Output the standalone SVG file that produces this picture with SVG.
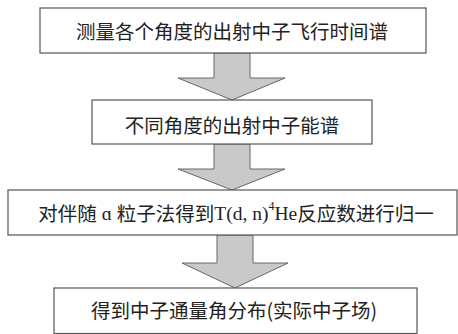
<svg xmlns="http://www.w3.org/2000/svg" width="458" height="334" viewBox="0 0 458 334">
<style>
.box{fill:#ffffff;stroke:#555555;stroke-width:1.2}
.arrow{fill:#c9c9c9;stroke:#666666;stroke-width:1}
.t{font-family:"Noto Sans CJK SC","Noto Sans CJK JP",sans-serif;font-size:19.5px;fill:#222222;text-anchor:middle;dominant-baseline:central}
.lat{font-family:"Liberation Serif",serif}
</style>
<rect width="458" height="334" fill="#ffffff"/>
<g id="connectors">
<path class="arrow" d="M214,53 L250,53 L250,78 L285,78 L232,100 L178,78 L214,78 Z"/>
<path class="arrow" d="M214,144 L250,144 L250,169 L285,169 L232,190 L178,169 L214,169 Z"/>
<path class="arrow" d="M217,235 L253,235 L253,263 L288,263 L235,288 L182,263 L217,263 Z"/>
</g>
<g id="node1">
<rect class="box" x="40" y="8" width="386" height="45"/>
<text class="t" x="232" y="30.5">测量各个角度的出射中子飞行时间谱</text>
</g>
<g id="node2">
<rect class="box" x="92" y="100" width="280" height="44"/>
<text class="t" x="232" y="124.5">不同角度的出射中子能谱</text>
</g>
<g id="node3">
<rect class="box" x="8" y="190" width="449" height="45"/>
<text class="t" x="236" y="212.5" font-size="20">对伴随<tspan class="lat"> ɑ </tspan>粒子法得到<tspan class="lat">T(d, n)</tspan><tspan class="lat" font-size="12" dy="-7">4</tspan><tspan class="lat" dy="7">He</tspan>反应数进行归一</text>
</g>
<g id="node4">
<rect class="box" x="54" y="288" width="363" height="45.5"/>
<text class="t" x="234" y="309.5">得到中子通量角分布(实际中子场)</text>
</g>
</svg>
